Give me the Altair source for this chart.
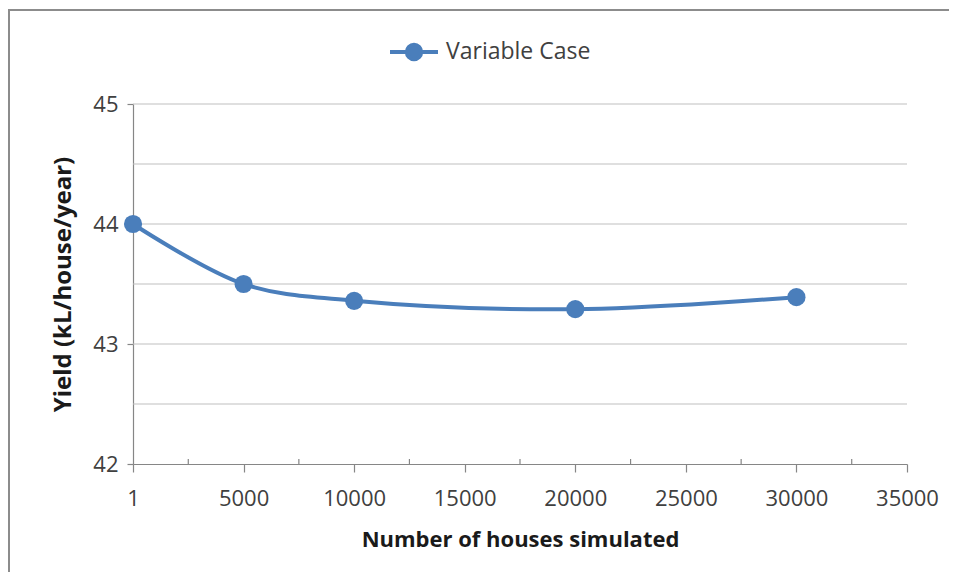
import altair as alt
import pandas as pd

houses = [1, 5000, 10000, 20000, 30000]
yield_vals = [44.0, 43.5, 43.36, 43.29, 43.39]
series = ["Variable Case"] * 5
x_major = [0, 5000, 10000, 15000, 20000, 25000, 30000, 35000]
x_minor = [2500, 7500, 12500, 17500, 22500, 27500, 32500]
y_grid = [42.5, 43, 43.5, 44, 44.5, 45]
y_labels = [42, 43, 44, 45]

df = pd.DataFrame({"houses": houses, "yield": yield_vals, "series": series})
minor_df = pd.DataFrame({"m": x_minor})

BLUE = "#4A7EBB"
FONT = "Open Sans"

xscale = alt.Scale(domain=[0, 35000], nice=False, zero=False)
yscale = alt.Scale(domain=[42, 45], nice=False, zero=False)

xaxis = alt.Axis(title="Number of houses simulated", values=x_major, format="d",
                 labelExpr="datum.value == 0 ? '1' : datum.label",
                 labelFlush=False, labelOverlap=False,
                 grid=False, domainColor="#868686", tickColor="#868686",
                 domainWidth=1.2, tickWidth=1.2, tickSize=8,
                 labelFont=FONT, labelFontSize=22, labelColor="#404040", labelPadding=16,
                 titleFont=FONT, titleFontSize=22, titleFontWeight="bold",
                 titleColor="#1a1a1a", titlePadding=20)
yaxis = alt.Axis(title="Yield (kL/house/year)", values=y_labels, format="d",
                 labelFlush=False, labelOverlap=False,
                 grid=False, domainColor="#868686", tickColor="#868686",
                 domainWidth=1.2, tickWidth=1.2, tickSize=6,
                 labelFont=FONT, labelFontSize=22, labelColor="#404040", labelPadding=9,
                 titleFont=FONT, titleFontSize=24, titleFontWeight="bold",
                 titleColor="#1a1a1a", titlePadding=17)

legend_path = "M-1,0L1,0M-0.3,0A0.3,0.3,0,1,1,0.3,0A0.3,0.3,0,1,1,-0.3,0Z"

color = alt.Color(
    "series:N",
    scale=alt.Scale(range=[BLUE]),
    legend=alt.Legend(
        title=None, orient="none", legendX=255, legendY=-78,
        symbolType=legend_path, symbolSize=2304, symbolStrokeWidth=4,
        symbolFillColor=BLUE, symbolStrokeColor=BLUE,
        labelFont=FONT, labelFontSize=23, labelColor="#404040", labelOffset=6,
    ),
)

grid = alt.Chart(pd.DataFrame({"g": y_grid})).mark_rule(color="#BFBFBF", strokeWidth=1.2).encode(
    y=alt.Y("g:Q", scale=yscale, axis=yaxis),
    x=alt.value(0), x2=alt.value(774),
)

minor = alt.Chart(minor_df).mark_rule(color="#868686", strokeWidth=1.2).encode(
    x=alt.X("m:Q", scale=xscale, axis=xaxis),
    y=alt.value(360), y2=alt.value(355),
)

line = alt.Chart(df).mark_line(interpolate="catmull-rom", strokeWidth=4).encode(
    x=alt.X("houses:Q", scale=xscale, axis=xaxis),
    y=alt.Y("yield:Q", scale=yscale, axis=yaxis),
    color=color,
)

points = alt.Chart(df).mark_point(filled=True, size=330, opacity=1).encode(
    x=alt.X("houses:Q", scale=xscale, axis=xaxis),
    y=alt.Y("yield:Q", scale=yscale, axis=yaxis),
    color=color,
)

border_top = alt.Chart(pd.DataFrame({"a": [0]})).mark_rect(color="#8C8C8C", strokeWidth=0).encode(
    x=alt.value(-125), x2=alt.value(816), y=alt.value(-95), y2=alt.value(-93)
)
border_left = alt.Chart(pd.DataFrame({"a": [0]})).mark_rect(color="#8C8C8C", strokeWidth=0).encode(
    x=alt.value(-125), x2=alt.value(-123), y=alt.value(-95), y2=alt.value(470)
)

chart = alt.layer(grid, minor, line, points, border_top, border_left).properties(
    width=774, height=360,
    autosize=alt.AutoSizeParams(type="none"),
    padding={"left": 125, "top": 96, "right": 42, "bottom": 108},
).configure_view(stroke=None)

chart.save("out.html", embed_options={"renderer": "svg", "actions": False})
